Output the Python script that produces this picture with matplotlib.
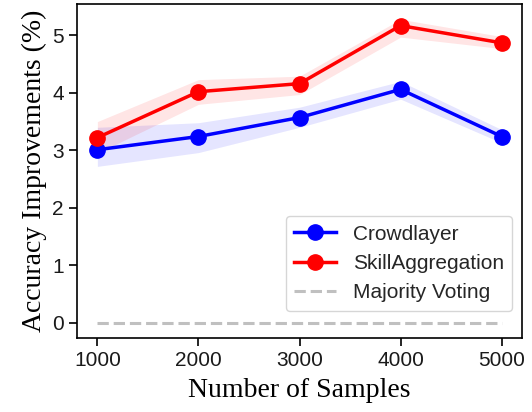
import matplotlib
matplotlib.use("Agg")
import matplotlib.pyplot as plt
import numpy as np

# samples on x, accuracy improvement (%) on y
n_samples = [1000, 2000, 3000, 4000, 5000]

crowd_mean = [3.01, 3.24, 3.57, 4.06, 3.24]
crowd_low = [2.72, 2.96, 3.40, 3.89, 3.13]
crowd_high = [3.40, 3.48, 3.75, 4.20, 3.36]

skill_mean = [3.22, 4.02, 4.16, 5.17, 4.87]
skill_low = [2.95, 3.80, 3.97, 4.97, 4.77]
skill_high = [3.50, 4.23, 4.29, 5.28, 4.98]

mv_base = [0, 0, 0, 0, 0]

plt.rcParams['font.family'] = ['Liberation Sans', 'DejaVu Sans']

fig, ax = plt.subplots(figsize=(5.32, 4.12), dpi=100)

ax.plot(n_samples, crowd_mean, '-o', color='blue', lw=2.5, ms=11, label='Crowdlayer')
ax.fill_between(n_samples, crowd_low, crowd_high, color='blue', alpha=0.1, lw=0)
ax.plot(n_samples, skill_mean, '-o', color='red', lw=2.5, ms=11, label='SkillAggregation')
ax.fill_between(n_samples, skill_low, skill_high, color='red', alpha=0.1, lw=0)
ax.plot(n_samples, mv_base, '--', color='#c0c0c0', lw=2.2, label='Majority Voting')

ax.set_xticks(n_samples)
ax.set_yticks([0, 1, 2, 3, 4, 5])
ax.tick_params(labelsize=15, width=1.2, length=6, colors='black')
for lbl in ax.get_xticklabels() + ax.get_yticklabels():
    lbl.set_color('#1a1a1a')
for s in ax.spines.values():
    s.set_linewidth(1.2)

ax.set_xlabel('Number of Samples', fontsize=20, family='Liberation Serif', labelpad=6)
ax.set_ylabel('Accuracy Improvements (%)', fontsize=20, family='Liberation Serif', labelpad=4)

leg = ax.legend(loc='lower right', fontsize=15, bbox_to_anchor=(0.978, 0.081),
                borderaxespad=0, labelcolor='#262626')
leg.get_frame().set_edgecolor('#cccccc')

plt.subplots_adjust(left=0.145, right=0.981, top=0.99, bottom=0.18)
plt.savefig('out.png', dpi=100)
